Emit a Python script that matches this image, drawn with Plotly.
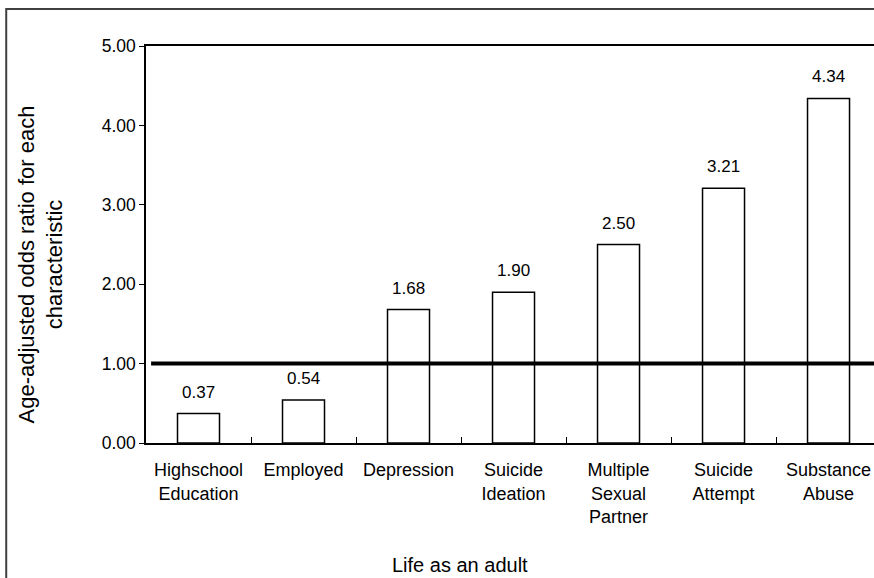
import plotly.graph_objects as go

categories = ["Highschool<br>Education", "Employed", "Depression", "Suicide<br>Ideation",
              "Multiple<br>Sexual<br>Partner", "Suicide<br>Attempt", "Substance<br>Abuse"]
odds_ratios = [0.37, 0.54, 1.68, 1.90, 2.50, 3.21, 4.34]
value_labels = ["0.37", "0.54", "1.68", "1.90", "2.50", "3.21", "4.34"]
reference_value = 1.00
y_ticks = [0, 1, 2, 3, 4, 5]

FONT = "Liberation Sans, Arial, sans-serif"

fig = go.Figure()
fig.add_trace(go.Bar(
    x=categories, y=odds_ratios, width=0.4,
    marker=dict(color="white", line=dict(color="black", width=1.5)),
    hoverinfo="x+y",
))

for c, v, t in zip(categories, odds_ratios, value_labels):
    fig.add_annotation(x=c, y=v, text=t, showarrow=False, yanchor="bottom",
                       yshift=10, font=dict(family=FONT, size=17, color="black"))

# reference line at 1.00
fig.add_shape(type="line", xref="paper", yref="y", x0=0.007, x1=1.0,
              y0=reference_value, y1=reference_value,
              line=dict(color="black", width=4))

# outer frame (partially off-page)
fig.add_shape(type="rect", xref="paper", yref="paper",
              x0=-0.192, x1=1.2, y0=-0.5, y1=1.093,
              line=dict(color="#404040", width=2), fillcolor="rgba(0,0,0,0)", layer="below")

fig.add_annotation(text="Age-adjusted odds ratio for each<br>characteristic", textangle=-90,
                   xref="paper", yref="paper", x=-0.144, y=0.45, xanchor="center",
                   yanchor="middle", showarrow=False,
                   font=dict(family=FONT, size=22, color="black"))
fig.add_annotation(text="Life as an adult", xref="paper", yref="paper",
                   x=0.431, y=-0.308, showarrow=False, xanchor="center", yanchor="middle",
                   font=dict(family=FONT, size=20, color="black"))

fig.update_layout(
    width=874, height=578,
    margin=dict(l=146, r=0, t=46, b=135),
    paper_bgcolor="white", plot_bgcolor="white",
    showlegend=False,
    xaxis=dict(type="category", range=[-0.5, 6.433], showline=True, mirror=True,
               linecolor="black", linewidth=1.5, ticks="inside", ticklen=6,
               tickcolor="black", tickson="boundaries", ticklabelstandoff=10,
               tickfont=dict(family=FONT, size=18, color="black"), showgrid=False),
    yaxis=dict(range=[0, 5], tickvals=y_ticks, tickformat=".2f", showline=True,
               linecolor="black", linewidth=1.5, ticks="outside", ticklen=5,
               tickcolor="black", showgrid=False, zeroline=False,
               tickfont=dict(family=FONT, size=17.5, color="black")),
)

fig.write_html("out.html", config={"displayModeBar": False},
               post_script="document.body.style.margin='0';document.body.style.overflow='hidden';")
